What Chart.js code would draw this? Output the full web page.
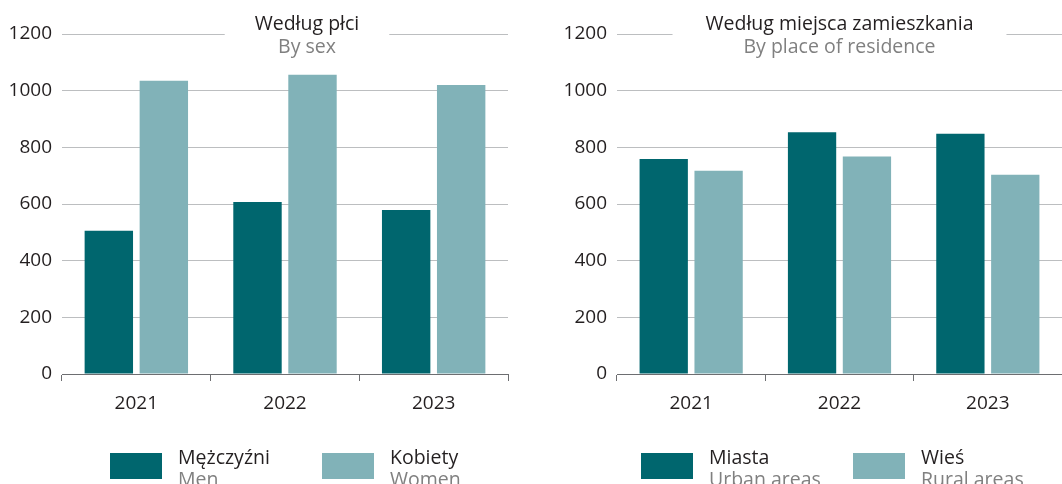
<!DOCTYPE html>
<html>
<head>
<meta charset="utf-8">
<script src="https://cdn.jsdelivr.net/npm/chart.js@4"></script>
<style>
  body { margin: 0; background: #fff; }
  .panel { position: absolute; top: 0; width: 531px; height: 484px; }
</style>
</head>
<body>
<div class="panel" style="left:0"><canvas id="sexChart" width="531" height="484"></canvas></div>
<div class="panel" style="left:531px"><canvas id="placeChart" width="531" height="484"></canvas></div>
<script>
// dane
const years = ['2021', '2022', '2023'];
const men = [506, 607, 579];
const women = [1035, 1056, 1020];
const urban = [759, 853, 848];
const rural = [717, 768, 703];
const yMax = 1200;
const yStep = 200;

const dark = '#00666e';
const light = '#81b2b8';
const font = "'Open Sans', sans-serif";

// tytul nad wykresem i legenda na dole
const decor = {
  id: 'decor',
  afterDraw(chart, args, opts) {
    const ctx = chart.ctx;
    const area = chart.chartArea;
    const cx = area.left + opts.titleShift + (area.right - area.left) / 2;
    ctx.save();
    ctx.font = '19.5px ' + font;
    const w = ctx.measureText(opts.title).width;
    ctx.fillStyle = '#fff';
    ctx.fillRect(cx - w / 2 - opts.gap, area.top - 6, w + opts.gap * 2, 12);
    ctx.textAlign = 'center';
    ctx.textBaseline = 'alphabetic';
    ctx.fillStyle = '#231f20';
    ctx.fillText(opts.title, cx, 30);
    ctx.fillStyle = '#808080';
    ctx.fillText(opts.subtitle, cx, 53);

    ctx.textAlign = 'left';
    chart.data.datasets.forEach((ds, i) => {
      const x = opts.legendX[i];
      ctx.fillStyle = ds.backgroundColor;
      ctx.fillRect(x, 453, 52, 26);
      ctx.fillStyle = '#231f20';
      ctx.fillText(ds.label, x + 68, 464);
      ctx.fillStyle = '#808080';
      ctx.fillText(ds.labelEn, x + 68, 486);
    });
    ctx.restore();
  }
};

function makeChart(id, pl, en, series, title, subtitle, titleShift, gap, padLeft, padRight) {
  const ctx = document.getElementById(id).getContext('2d');
  return new Chart(ctx, {
    type: 'bar',
    data: {
      labels: years,
      datasets: [
        { label: pl[0], labelEn: en[0], data: series[0], backgroundColor: dark },
        { label: pl[1], labelEn: en[1], data: series[1], backgroundColor: light }
      ]
    },
    options: {
      responsive: false,
      animation: false,
      layout: { padding: { top: 34, left: padLeft, right: padRight, bottom: 0 } },
      datasets: { bar: { categoryPercentage: 0.74, barPercentage: 0.88 } },
      plugins: {
        legend: { display: false },
        tooltip: { enabled: false },
        decor: { title: title, subtitle: subtitle, titleShift: titleShift, gap: gap, legendX: [110, 322] }
      },
      scales: {
        x: {
          afterFit(scale) { scale.height = 110; },
          grid: { drawOnChartArea: false, offset: true, tickLength: 7, color: '#6d6e71' },
          border: { color: '#6d6e71', width: 1 },
          ticks: { color: '#231f20', font: { family: font, size: 19 }, padding: 11 }
        },
        y: {
          min: 0,
          max: yMax,
          afterFit(scale) { scale.width = 62; },
          grid: { drawTicks: false, color: '#bcbec0' },
          border: { display: false },
          ticks: {
            stepSize: yStep,
            color: '#231f20',
            font: { family: font, size: 19 },
            padding: 10,
            callback: v => String(v)
          }
        }
      }
    },
    plugins: [decor]
  });
}

makeChart('sexChart', ['Mężczyźni', 'Kobiety'], ['Men', 'Women'], [men, women],
  'Według płci', 'By sex', 22, 30, 0, 23);
makeChart('placeChart', ['Miasta', 'Wieś'], ['Urban areas', 'Rural areas'], [urban, rural],
  'Według miejsca zamieszkania', 'By place of residence', 0, 33, 24, 0);
</script>
</body>
</html>
